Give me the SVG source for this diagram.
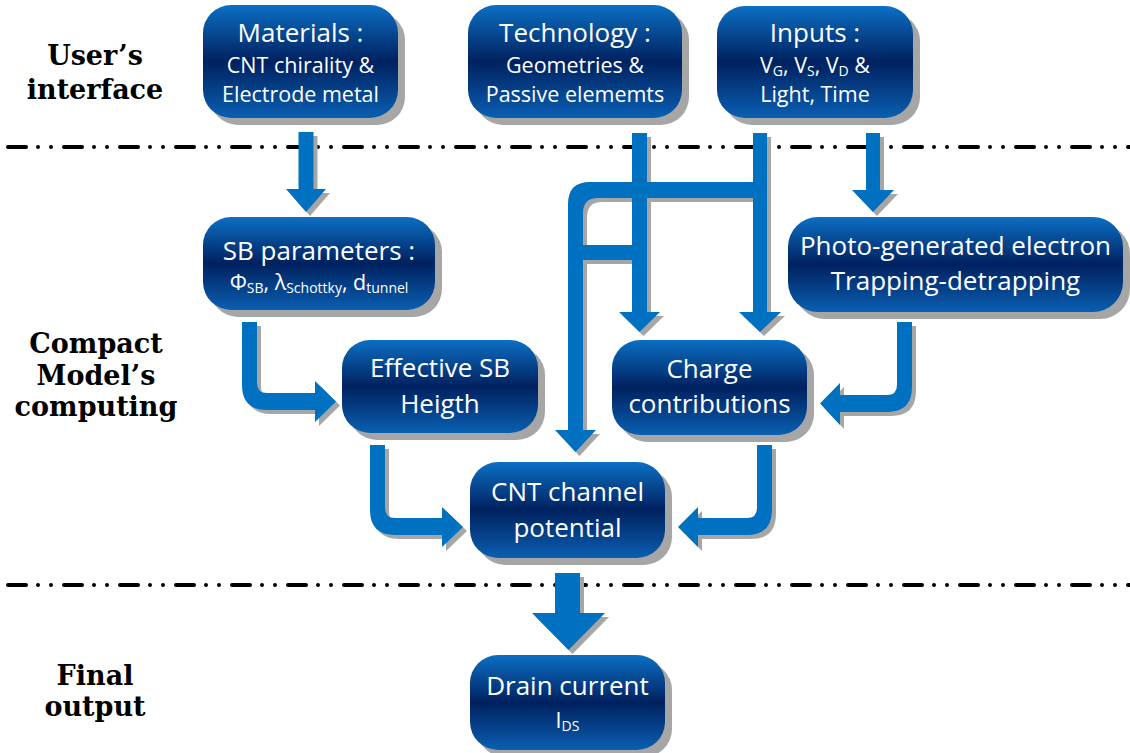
<svg xmlns="http://www.w3.org/2000/svg" xmlns:xlink="http://www.w3.org/1999/xlink" width="1130" height="753" viewBox="0 0 1130 753">
<defs>
<linearGradient id="g" x1="0" y1="0" x2="0" y2="1">
<stop offset="0" stop-color="#0c6fc4"/>
<stop offset="0.5" stop-color="#00215f"/>
<stop offset="1" stop-color="#0a5fb2"/>
</linearGradient>
<path id="a1" d="M298.5,132 H313.5 V189 H326 L306,212 L286,189 H298.5 Z"/>
<path id="a2" d="M632,133 H647 V312 H660 L639.5,332 L619,312 H632 Z"/>
<path id="a3" d="M753,133 H767 V312 H781 L760,332 L739,312 H753 Z"/>
<path id="a4" d="M866,133 H880 V190 H894 L873,212 L852,190 H866 Z"/>
<path id="a5" d="M753,182 V198 H598 Q583,198 583,213 V430 H596 L575.5,452 L555,430 H568 V204 Q568,182 590,182 Z"/>
<path id="a5b" d="M583,245 H632 V260 H583 Z"/>
<path id="a6" d="M242,322 H257 V383 Q257,393 267,393 H315 V381 L336,401.5 L315,422 V410 H267 Q242,410 242,385 Z"/>
<path id="a7" d="M897,322 H912 V387 Q912,412 887,412 H840 V425 L820,403.5 L840,383 V395 H887 Q897,395 897,385 Z"/>
<path id="a8" d="M370,445 H385 V508 Q385,518 395,518 H442 V507 L463,527 L442,547 V535 H395 Q370,535 370,510 Z"/>
<path id="a9" d="M757,445 H772 V510 Q772,535 747,535 H698 V547 L678,527 L698,507 V518 H747 Q757,518 757,508 Z"/>
<path id="a10" d="M555,573 H580 V613 H605 L568.5,650 L532,613 H555 Z"/>
</defs>
<style>
.sep{stroke:#000;stroke-width:4;stroke-linecap:round;stroke-dasharray:18 12 0 13 0 13;fill:none}
.lbl{font-family:"DejaVu Serif","Liberation Serif",serif;font-weight:bold;font-size:27px;fill:#000;text-anchor:middle}
.box{fill:url(#g)}
.sh{fill:#a6a6a6}
.t{font-family:"Open Sans","Liberation Sans",sans-serif;fill:#fff;text-anchor:middle}
.big{font-size:26px}
.small{font-size:21.5px}
.sub{font-size:14px}
.ash use{fill:#a6a6a6}
.arr use{fill:#0070c0}
</style>
<rect width="1130" height="753" fill="#fff"/>
<line class="sep" x1="8" y1="147" x2="1130" y2="147"/>
<line class="sep" x1="8" y1="585" x2="1130" y2="585"/>
<g id="labels">
<text class="lbl" x="95" y="65">User’s</text>
<text class="lbl" x="95" y="99">interface</text>
<text class="lbl" x="96" y="353">Compact</text>
<text class="lbl" x="96" y="385">Model’s</text>
<text class="lbl" x="96" y="416">computing</text>
<text class="lbl" x="95" y="685">Final</text>
<text class="lbl" x="95" y="716">output</text>
</g>
<g id="connectors">
<g class="ash" transform="translate(4,4)">
<use xlink:href="#a1"/><use xlink:href="#a2"/><use xlink:href="#a3"/><use xlink:href="#a4"/><use xlink:href="#a5"/><use xlink:href="#a5b"/><use xlink:href="#a6"/><use xlink:href="#a7"/><use xlink:href="#a8"/><use xlink:href="#a9"/><use xlink:href="#a10"/>
</g>
<g class="arr">
<use xlink:href="#a1"/><use xlink:href="#a2"/><use xlink:href="#a3"/><use xlink:href="#a4"/><use xlink:href="#a5"/><use xlink:href="#a5b"/><use xlink:href="#a6"/><use xlink:href="#a7"/><use xlink:href="#a8"/><use xlink:href="#a9"/><use xlink:href="#a10"/>
</g>
</g>
<g id="materials">
<rect class="sh" x="210" y="12" width="195" height="113" rx="28"/>
<rect class="box" x="203" y="5" width="195" height="113" rx="28"/>
<text class="t big" x="300.5" y="42">Materials :</text>
<text class="t small" x="300.5" y="73">CNT chirality &amp;</text>
<text class="t small" x="300.5" y="102">Electrode metal</text>
</g>
<g id="technology">
<rect class="sh" x="475" y="12" width="214" height="113" rx="28"/>
<rect class="box" x="468" y="5" width="214" height="113" rx="28"/>
<text class="t big" x="575" y="42">Technology :</text>
<text class="t small" x="575" y="73">Geometries &amp;</text>
<text class="t small" x="575" y="102">Passive elememts</text>
</g>
<g id="inputs">
<rect class="sh" x="724" y="13" width="196" height="112" rx="28"/>
<rect class="box" x="717" y="6" width="196" height="112" rx="28"/>
<text class="t big" x="815" y="42">Inputs :</text>
<text class="t small" x="815" y="73">V<tspan class="sub" dy="3">G</tspan><tspan dy="-3">, V</tspan><tspan class="sub" dy="3">S</tspan><tspan dy="-3">, V</tspan><tspan class="sub" dy="3">D</tspan><tspan dy="-3"> &amp;</tspan></text>
<text class="t small" x="815" y="102">Light, Time</text>
</g>
<g id="sbparams">
<rect class="sh" x="210" y="224" width="232" height="93" rx="28"/>
<rect class="box" x="203" y="217" width="232" height="93" rx="28"/>
<text class="t big" x="319" y="260">SB parameters :</text>
<text class="t small" x="319" y="290">Φ<tspan class="sub" dy="3">SB</tspan><tspan dy="-3">, λ</tspan><tspan class="sub" dy="3">Schottky</tspan><tspan dy="-3">, d</tspan><tspan class="sub" dy="3">tunnel</tspan></text>
</g>
<g id="photo">
<rect class="sh" x="795" y="224" width="335" height="95" rx="30"/>
<rect class="box" x="788" y="217" width="335" height="95" rx="30"/>
<text class="t big" x="955.5" y="255">Photo-generated electron</text>
<text class="t big" x="955.5" y="290">Trapping-detrapping</text>
</g>
<g id="effective">
<rect class="sh" x="349" y="347" width="196" height="93" rx="28"/>
<rect class="box" x="342" y="340" width="196" height="93" rx="28"/>
<text class="t big" x="440" y="377">Effective SB</text>
<text class="t big" x="440" y="413">Heigth</text>
</g>
<g id="charge">
<rect class="sh" x="619" y="347" width="195" height="95" rx="28"/>
<rect class="box" x="612" y="340" width="195" height="95" rx="28"/>
<text class="t big" x="709.5" y="378">Charge</text>
<text class="t big" x="709.5" y="413">contributions</text>
</g>
<g id="cnt">
<rect class="sh" x="477" y="469" width="195" height="96" rx="28"/>
<rect class="box" x="470" y="462" width="195" height="96" rx="28"/>
<text class="t big" x="567.5" y="501">CNT channel</text>
<text class="t big" x="567.5" y="537">potential</text>
</g>
<g id="drain">
<rect class="sh" x="477" y="662" width="195" height="95" rx="28"/>
<rect class="box" x="470" y="655" width="195" height="95" rx="28"/>
<text class="t big" x="567.5" y="695">Drain current</text>
<text class="t small" x="567.5" y="728">I<tspan class="sub" dy="3">DS</tspan></text>
</g>
</svg>
